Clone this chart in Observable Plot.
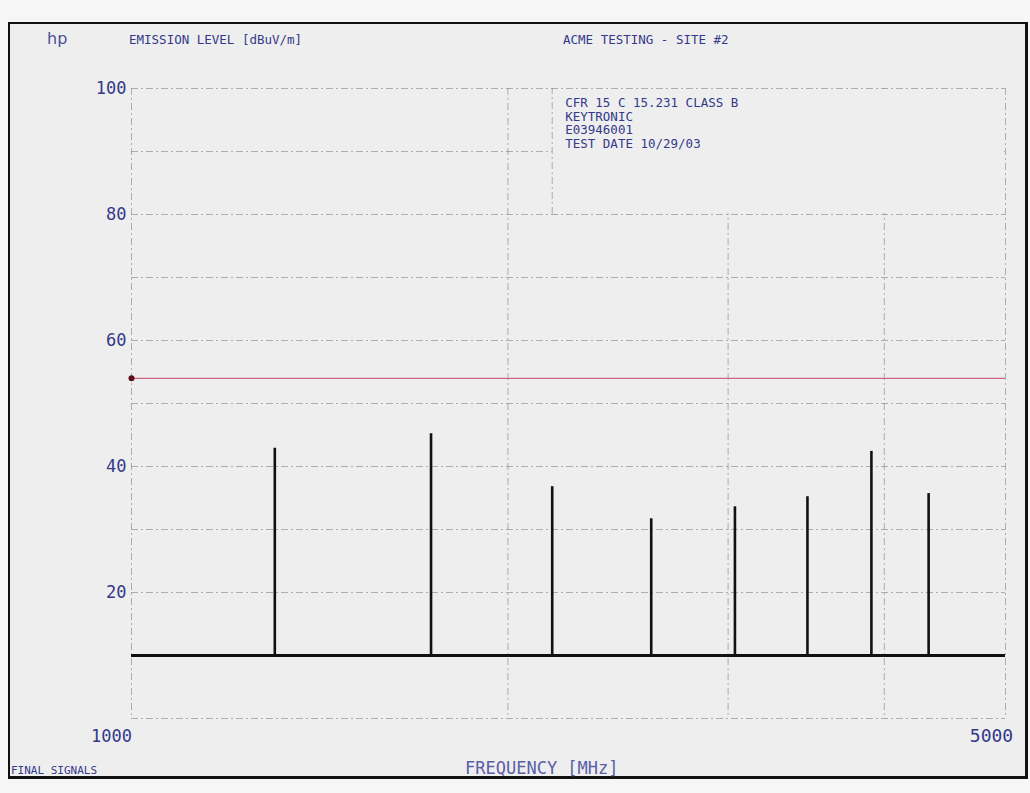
<!DOCTYPE html>
<html>
<head>
<meta charset="utf-8">
<script src="https://cdn.jsdelivr.net/npm/d3@7"></script>
<script src="https://cdn.jsdelivr.net/npm/@observablehq/plot@0.6"></script>
<style>
  body { margin: 0; background: #f6f6f6; }
  #page { position: relative; width: 1030px; height: 793px; background: #f6f6f6; overflow: hidden;
          font-family: "DejaVu Sans Mono", monospace; color: #34398a; }
  #frame { position: absolute; left: 8px; top: 22px; width: 1015px; height: 752px;
           border: 2px solid #111; border-right-width: 3px; border-bottom-width: 3px; background: #eeeeee; }
  #chart { position: absolute; left: 0; top: 0; }
  .t { position: absolute; white-space: pre; line-height: 1; }
</style>
</head>
<body>
<div id="page">
  <div id="frame"></div>
  <div id="chart"></div>
  <div class="t" style="left:47px;top:31px;font-size:16px;font-family:'DejaVu Sans';color:#4a4f95">hp</div>
  <div class="t" style="left:129px;top:34px;font-size:12.5px;">EMISSION LEVEL [dBuV/m]</div>
  <div class="t" style="left:563px;top:34px;font-size:12.5px;">ACME TESTING - SITE #2</div>
  <div class="t" style="left:11px;top:765px;font-size:11px;">FINAL SIGNALS</div>
  <div class="t" style="left:465px;top:760px;font-size:17px;color:#5a5fa8;">FREQUENCY [MHz]</div>
</div>
<script>
// Harmonic emissions (MHz) and measured levels (dBuV/m)
const harmonicFreqs = [1302, 1736, 2170, 2604, 3038, 3472, 3906, 4340];
const emissionLevels = [42.9, 45.2, 36.8, 31.7, 33.6, 35.2, 42.4, 35.7];
const noiseFloor = 10;
const limitLevel = 54;
const yTicks = [20, 40, 60, 80, 100];
const xTicksLeft = [1000];
const xTicksRight = [5000];
const gridLevels = [0, 10, 20, 30, 40, 50, 60, 70, 80, 90, 100];
const gridFreqs = [1000, 2000, 3000, 4000, 5000];
const noteLines = ["CFR 15 C 15.231 CLASS B", "KEYTRONIC", "E03946001", "TEST DATE 10/29/03"];
const noteBox = [{ x1: 2170, x2: 5000, y1: 80, y2: 100 }];

const signals = harmonicFreqs.map((f, i) => ({ freq: f, level: emissionLevels[i] }));
const ink = "#34398a";
const gridStyle = { stroke: "#8a8a8a", strokeWidth: 1, strokeDasharray: "7,3,2,3", strokeOpacity: 0.65 };

const plot = Plot.plot({
  width: 1030,
  height: 793,
  marginLeft: 131,
  marginRight: 25,
  marginTop: 88,
  marginBottom: 75,
  style: { background: "transparent", fontFamily: "DejaVu Sans Mono, monospace", color: ink, overflow: "visible" },
  x: { type: "log", domain: [1000, 5000] },
  y: { domain: [0, 100] },
  marks: [
    Plot.ruleY(gridLevels, gridStyle),
    Plot.ruleX(gridFreqs, gridStyle),
    Plot.rect(noteBox, { x1: "x1", x2: "x2", y1: "y1", y2: "y2", fill: "#eeeeee", insetBottom: 1, insetRight: 1, insetTop: 1 }),
    Plot.ruleX(noteBox, { x: "x1", y1: "y1", y2: "y2", ...gridStyle }),
    Plot.text(noteBox, { x: "x1", y: "y2", text: () => noteLines.join("\n"), textAnchor: "start", lineAnchor: "top",
      dx: 13, dy: 9, fontSize: 12.5, lineHeight: 1.08, fill: ink }),
    Plot.ruleY([limitLevel], { stroke: "#c9506f", strokeWidth: 1.2, strokeOpacity: 0.85 }),
    Plot.dot([{ f: 1000, v: limitLevel }], { x: "f", y: "v", r: 3, fill: "#5a0e1e", stroke: "none" }),
    Plot.ruleY([noiseFloor], { stroke: "#111", strokeWidth: 3.2 }),
    Plot.ruleX(signals, { x: "freq", y1: noiseFloor, y2: "level", stroke: "#111", strokeWidth: 2.6 }),
    Plot.axisY({ ticks: yTicks, tickSize: 0, tickPadding: 5, fontSize: 17, fill: ink, label: null }),
    Plot.axisX({ ticks: xTicksLeft, tickSize: 0, tickPadding: 11, fontSize: 17, dx: -20, fill: ink, label: null,
      tickFormat: d => String(d) }),
    Plot.axisX({ ticks: xTicksRight, tickSize: 0, tickPadding: 11, fontSize: 18, dx: -14, fill: ink, label: null,
      tickFormat: d => String(d) })
  ]
});
document.getElementById("chart").appendChild(plot);
</script>
</body>
</html>
